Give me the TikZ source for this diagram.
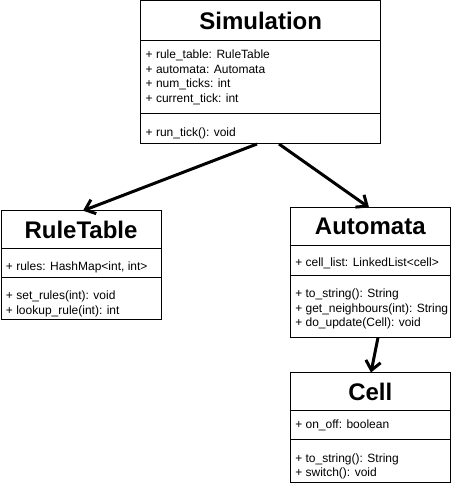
\documentclass[tikz,border=0pt]{standalone}
\usepackage{fontspec}
\setmainfont{Liberation Sans}
\usetikzlibrary{shapes,arrows.meta,positioning}
\tikzstyle{umlclass} = [draw, rectangle split, rectangle split parts=3,
    inner sep=0pt, outer sep=0pt, line width=1pt, fill=white]
\tikzstyle{connector} = [-{Straight Barb[length=9pt,width=15pt]}, line width=3pt]
\newcommand{\classname}[3]{\parbox[b][#2][c]{#1}{\centering\fontsize{24}{28}\selectfont\bfseries #3}}
\newcommand{\members}[4][0pt]{\parbox[b][#3][c]{#2}{\vspace*{#1}\fontsize{12}{14.5}\selectfont\raggedright\leftskip=5pt #4}}

\begin{document}
\begin{tikzpicture}[x=1pt, y=1pt]
    \useasboundingbox (0,0) rectangle (451,487);
    \node (sim) [umlclass, anchor=north] at (260.7,486) {\classname{240pt}{38.7pt}{Simulation}
        \nodepart{second}\members{240pt}{72.3pt}{+ rule\_table: RuleTable\\ + automata: Automata\\ + num\_ticks: int\\ + current\_tick: int}
        \nodepart{third}\members[8pt]{240pt}{29pt}{+ run\_tick(): void}};
    \node (rules) [umlclass, below=66.7pt of sim.south, xshift=-179.7pt] {\classname{160pt}{36.6pt}{RuleTable}
        \nodepart{second}\members[8pt]{160pt}{28.4pt}{+ rules: HashMap<int, int>}
        \nodepart{third}\members[10pt]{160pt}{41.3pt}{+ set\_rules(int): void\\ + lookup\_rule(int): int}};
    \node (auto) [umlclass, below=63.5pt of sim.south, xshift=109.6pt] {\classname{160pt}{37pt}{Automata}
        \nodepart{second}\members[5pt]{160pt}{29pt}{+ cell\_list: LinkedList<cell>}
        \nodepart{third}\members[5pt]{160pt}{61pt}{+ to\_string(): String\\ + get\_neighbours(int): String\\ + do\_update(Cell): void}};
    \node (cell) [umlclass, below=35pt of auto.south] {\classname{160pt}{37.2pt}{Cell}
        \nodepart{second}\members{160pt}{28.3pt}{+ on\_off: boolean}
        \nodepart{third}\members[10pt]{160pt}{42pt}{+ to\_string(): String\\ + switch(): void}};

    \draw [connector] ([xshift=-3.7pt]sim.south) -- ([xshift=2pt]rules.north);
    \draw [connector] ([xshift=18.3pt]sim.south) -- ([xshift=-1.3pt]auto.north);
    \draw [connector] ([xshift=7.7pt]auto.south) -- ([xshift=0.7pt]cell.north);
\end{tikzpicture}
\end{document}
